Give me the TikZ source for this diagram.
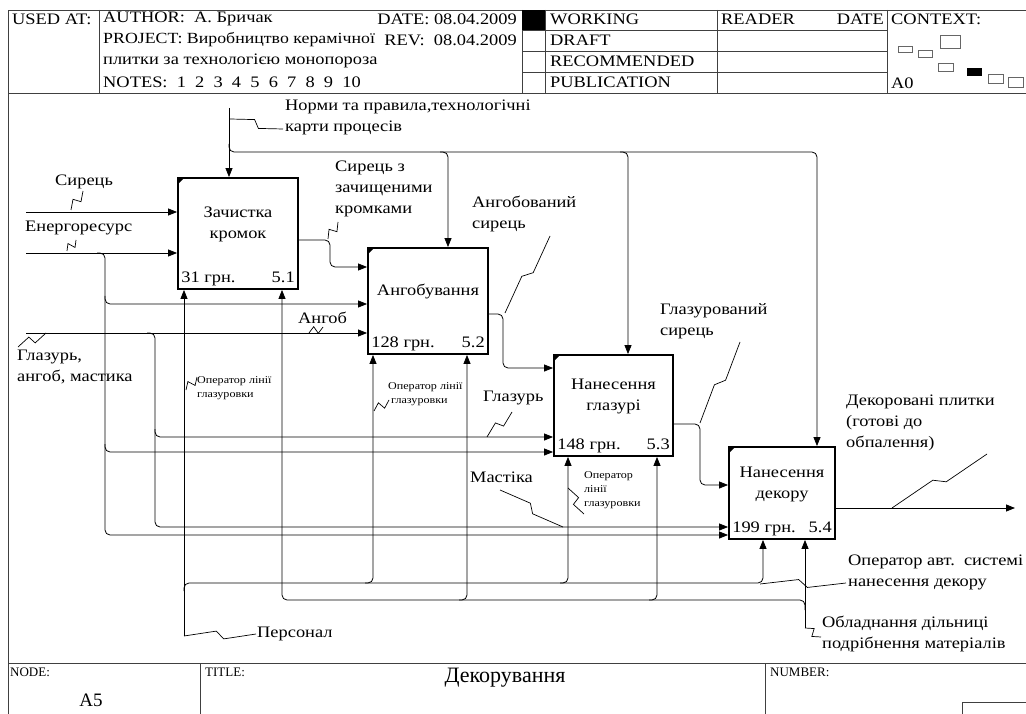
\documentclass[tikz,border=0pt]{standalone}
\usepackage{fontspec}
\setmainfont{Liberation Serif}[FakeStretch=1.15]
\newfontfamily\plainfont{Liberation Serif}
\usetikzlibrary{calc,arrows.meta}

\tikzset{
  frame/.style={line width=0.8pt, black!75},
  fn/.style={draw, line width=1.8pt, inner sep=0pt},
  arr/.style={-{Triangle[length=9pt,width=7pt]}, line width=0.8pt},
  rc/.style={rounded corners=5pt},
  sq/.style={line width=0.7pt},
  lbl/.style={inner sep=0pt, align=left},
  small/.style={inner sep=0pt, align=left, font=\fontsize{10.5}{14}\selectfont},
  formhd/.style={inner sep=0pt, anchor=west, font=\plainfont\fontsize{13}{15}\selectfont},
}
% lightning mark between a label and its arrow
\newcommand{\squig}[2]{\draw[sq] (#1) -- ($(#1)!0.45!(#2)!4pt!90:(#2)$) -- ($(#1)!0.55!(#2)!4pt!-90:(#2)$) -- (#2);}

\begin{document}
\begin{tikzpicture}[x=1pt, y=-1pt, font=\fontsize{16}{21}\selectfont]
    \useasboundingbox (0,0) rectangle (1026,714);

    % Form frame
    \draw[frame] (8,714) -- (8,10) -- (1026,10);
    \draw[frame] (8,93) -- (1026,93);
    \draw[frame] (8,663) -- (1026,663);
    \foreach \x in {99,522,545,717,887} \draw[frame] (\x,10) -- (\x,93);
    \foreach \y in {30,51,72} \draw[frame] (522,\y) -- (887,\y);
    \fill (522,10) rectangle (545,30);
    \foreach \x in {200,765} \draw[frame] (\x,663) -- (\x,714);
    \draw[frame] (962,714) -- (962,702) -- (1026,702);

    % Header
    \node[lbl, anchor=west] (usedat) at (12,19) {USED AT:};
    \node[lbl, anchor=west] (author) at (103,19) {AUTHOR:\ \ А. Бричак};
    \node[lbl, anchor=east] (date) at (517,19) {DATE: 08.04.2009};
    \node[lbl, anchor=west, font=\fontsize{15.5}{21}\selectfont] (project) at (103,40) {PROJECT: Виробництво керамічної};
    \node[lbl, anchor=east] (rev) at (517,40) {REV:\ \ 08.04.2009};
    \node[lbl, anchor=west] (project2) at (103,61) {плитки за технологією монопороза};
    \node[lbl, anchor=west] (notes) at (103,82) {NOTES:\ \ 1\ \ 2\ \ 3\ \ 4\ \ 5\ \ 6\ \ 7\ \ 8\ \ 9\ \ 10};
    \node[lbl, anchor=west] (working) at (550,19) {WORKING};
    \node[lbl, anchor=west] (draft) at (550,40) {DRAFT};
    \node[lbl, anchor=west] (recom) at (550,61) {RECOMMENDED};
    \node[lbl, anchor=west] (public) at (550,82) {PUBLICATION};
    \node[lbl, anchor=west] (reader) at (721,19) {READER};
    \node[lbl, anchor=east] (rdate) at (884,19) {DATE};
    \node[lbl, anchor=west] (context) at (891,19) {CONTEXT:};
    \node[lbl, anchor=west] (ctxnode) at (891,83) {A0};
    \foreach \x/\y/\w/\h in {898/46/14/6, 918/50/14/7, 940/35/20/13, 938/63/15/8, 988/74/15/9, 1008/77/15/10}
        \draw[black!60, line width=0.6pt] (\x,\y) rectangle ++(\w,\h);
    \fill (967,68) rectangle ++(15,8);

    % Footer
    \node[formhd] (nodehd) at (10,672) {NODE:};
    \node[lbl, font=\plainfont\fontsize{19}{21}\selectfont] (nodeno) at (91,700) {A5};
    \node[formhd] (titlehd) at (205,672) {TITLE:};
    \node[lbl, font=\plainfont\fontsize{22}{24}\selectfont] (title) at (505,678) {Декорування};
    \node[formhd] (numhd) at (770,672) {NUMBER:};

    % Activity boxes
    \node[fn, minimum width=120pt, minimum height=111pt] (b1) at (238,233.5) {};
    \node[fn, minimum width=120pt, minimum height=106pt] (b2) at (428,301) {};
    \node[fn, minimum width=119pt, minimum height=101pt] (b3) at (613.5,405.5) {};
    \node[fn, minimum width=106pt, minimum height=92pt] (b4) at (782,493) {};
    \node[lbl, align=center] (t1) at ($(b1.center)+(0,-9)$) {Зачистка\\кромок};
    \node[lbl, align=center] (t2) at ($(b2.center)+(0,-9)$) {Ангобування};
    \node[lbl, align=center] (t3) at ($(b3.center)+(0,-9)$) {Нанесення\\глазурі};
    \node[lbl, align=center] (t4) at ($(b4.center)+(0,-9)$) {Нанесення\\декору};
    \foreach \b/\c/\n in {b1/31 грн./5.1, b2/128 грн./5.2, b3/148 грн./5.3, b4/199 грн./5.4} {
        \fill (\b.north west) -- ++(8,0) -- ++(-8,8) -- cycle;
        \node[lbl, anchor=base west] (\b c) at ($(\b.south west)+(4,-7)$) {\c};
        \node[lbl, anchor=base east] (\b n) at ($(\b.south east)+(-4,-7)$) {\n};
    }

    % Arrow ends and bends
    \foreach \n/\p in {ctl/{229,108}, cj/{229,152}, c2/{448,152}, c3/{628,152}, c4/{817,152},
                       in1/{26,212}, in2/{26,253}, in3/{26,333},
                       e1/{105,253}, e2/{105,304}, e3/{105,452}, e4/{105,535},
                       g1/{155,333}, g2/{155,437}, g3/{155,527},
                       o1a/{330,240}, o1b/{330,267}, o2a/{503,314}, o2b/{503,368},
                       o3a/{700,424}, o3b/{700,485}, out/{1015,508},
                       ps/{184,636}, pj/{184,583}, m2a/{373,583}, m3a/{568,583}, m4a/{763,583},
                       eq/{805,628}, ej/{805,600}, m1b/{282,600}, m2b/{467,600}, m3b/{657,600}}
        \coordinate (\n) at (\p);

    % Controls
    \draw[arr] (ctl) -- (ctl |- b1.north);
    \draw[arr, rc] ($(cj)+(0,-8)$) -- (cj) -- (c4) -- (c4 |- b4.north);
    \draw[arr, rc] ($(c2)+(-8,0)$) -- (c2) -- (c2 |- b2.north);
    \draw[arr, rc] ($(c3)+(-8,0)$) -- (c3) -- (c3 |- b3.north);

    % Inputs
    \draw[arr] (in1) -- (in1 -| b1.west);
    \draw[arr] (in2) -- (in2 -| b1.west);
    \draw[arr] (in3) -- (in3 -| b2.west);
    \draw[arr, rc] ($(e1)+(-8,0)$) -- (e1) -- (e4) -- (e4 -| b4.west);
    \draw[arr, rc] ($(e2)+(0,-8)$) -- (e2) -- (e2 -| b2.west);
    \draw[arr, rc] ($(e3)+(0,-8)$) -- (e3) -- (e3 -| b3.west);
    \draw[arr, rc] ($(g1)+(-8,0)$) -- (g1) -- (g3) -- (g3 -| b4.west);
    \draw[arr, rc] ($(g2)+(0,-8)$) -- (g2) -- (g2 -| b3.west);

    % Outputs
    \draw[arr, rc] (o1a -| b1.east) -- (o1a) -- (o1b) -- (o1b -| b2.west);
    \draw[arr, rc] (o2a -| b2.east) -- (o2a) -- (o2b) -- (o2b -| b3.west);
    \draw[arr, rc] (o3a -| b3.east) -- (o3a) -- (o3b) -- (o3b -| b4.west);
    \draw[arr] (out -| b4.east) -- (out);

    % Mechanisms
    \draw[arr] (ps) -- (ps |- b1.south);
    \draw[arr, rc] ($(pj)+(0,8)$) -- (pj) -- (m4a) -- (m4a |- b4.south);
    \draw[arr, rc] ($(m2a)+(-8,0)$) -- (m2a) -- (m2a |- b2.south);
    \draw[arr, rc] ($(m3a)+(-8,0)$) -- (m3a) -- (m3a |- b3.south);
    \draw[arr] (eq) -- (eq |- b4.south);
    \draw[arr, rc] ($(ej)+(0,10)$) -- (ej) -- (m1b) -- (m1b |- b1.south);
    \draw[arr, rc] ($(m2b)+(-8,0)$) -- (m2b) -- (m2b |- b2.south);
    \draw[arr, rc] ($(m3b)+(-8,0)$) -- (m3b) -- (m3b |- b3.south);

    % Labels
    \node[lbl, anchor=north west] (lnorm) at (285,100) {Норми та правила,технологічні\\карти процесів};
    \node[lbl, anchor=west] (lsir) at (55,182) {Сирець};
    \node[lbl, anchor=west] (lener) at (25,228) {Енергоресурс};
    \node[lbl, anchor=north west] (lszk) at (335,161) {Сирець з\\зачищеними\\кромками};
    \node[lbl, anchor=north west] (lang) at (472,196) {Ангобований\\сирець};
    \node[lbl, anchor=west] (langob) at (298,318) {Ангоб};
    \node[lbl, anchor=north west] (lgam) at (17,350) {Глазурь,\\ангоб, мастика};
    \node[lbl, anchor=north west] (lglzs) at (660,303) {Глазурований\\сирець};
    \node[lbl, anchor=west] (lglz) at (483,398) {Глазурь};
    \node[lbl, anchor=west] (lmast) at (470,477) {Мастіка};
    \node[lbl, anchor=north west] (ldek) at (846,395) {Декоровані плитки\\(готові до\\обпалення)};
    \node[lbl, anchor=north west] (lopavt) at (848,555) {Оператор авт.\ \ системі\\нанесення декору};
    \node[lbl, anchor=north west] (lobl) at (822,616) {Обладнання дільниці\\подрібнення матеріалів};
    \node[lbl, anchor=west] (lpers) at (257,634) {Персонал};
    \node[small, anchor=north west] (lop1) at (197,376) {Оператор лінії\\глазуровки};
    \node[small, anchor=north west] (lop2) at (388,382) {Оператор лінії\\\ глазуровки};
    \node[small, anchor=north west] (lop3) at (584,471) {Оператор\\лінії\\глазуровки};

    % Squiggle ends
    \foreach \n/\p in {s1a/{230,119}, s1b/{283,129}, s2a/{83,191}, s2b/{71,210},
                       s3a/{76,240}, s3b/{67,251}, s4a/{338,222}, s4b/{328,239},
                       s5a/{550,236}, s5b/{505,313}, s6a/{309,333}, s6b/{323,327},
                       s7a/{18,347}, s7b/{46,333}, s8a/{512,412}, s8b/{487,437},
                       s9a/{740,342}, s9b/{700,423}, s10a/{500,490}, s10b/{563,527},
                       s11a/{987,454}, s11b/{892,508}, s12a/{197,377}, s12b/{186,390},
                       s13a/{374,411}, s13b/{389,400}, s14a/{568,488}, s14b/{584,514},
                       s15b/{256,634}, s16a/{760,584}, s16b/{846,583}, s17b/{821,637}}
        \coordinate (\n) at (\p);
    \squig{s1a}{s1b}
    \squig{s2a}{s2b}
    \squig{s3a}{s3b}
    \squig{s4a}{s4b}
    \squig{s5a}{s5b}
    \squig{s6a}{s6b}
    \squig{s7a}{s7b}
    \squig{s8a}{s8b}
    \squig{s9a}{s9b}
    \squig{s10a}{s10b}
    \squig{s11a}{s11b}
    \squig{s12a}{s12b}
    \squig{s13a}{s13b}
    \squig{s14a}{s14b}
    \squig{ps}{s15b}
    \squig{s16a}{s16b}
    \squig{eq}{s17b}
\end{tikzpicture}
\end{document}
